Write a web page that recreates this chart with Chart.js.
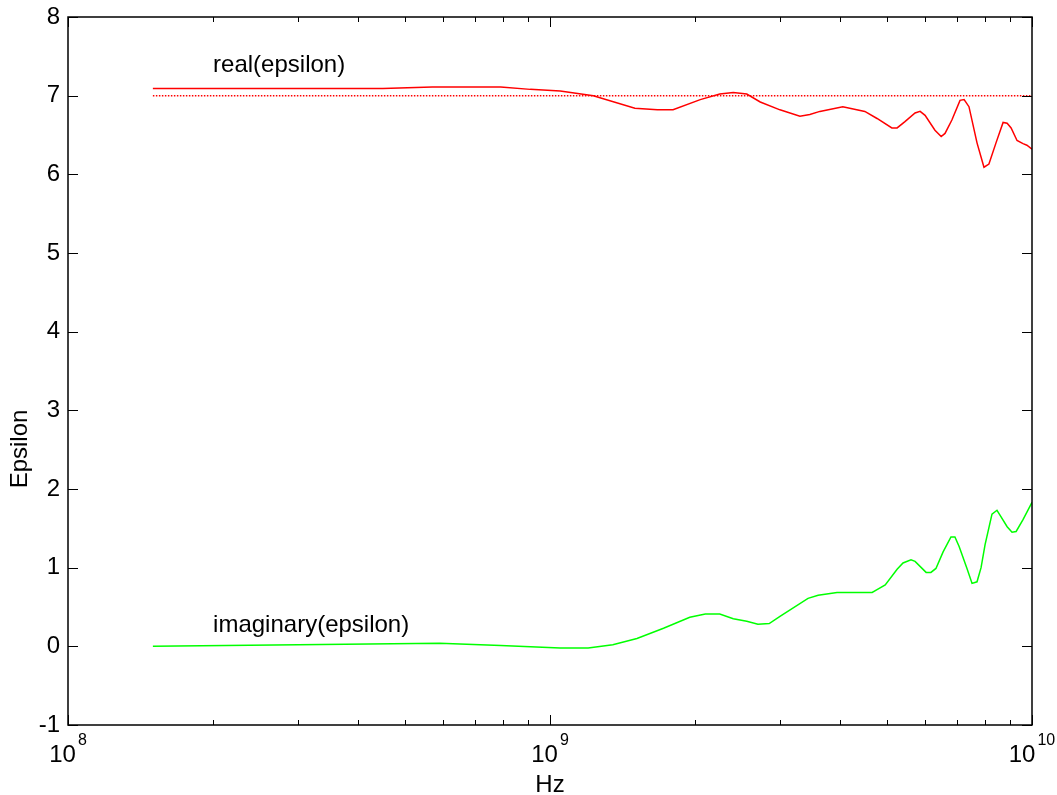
<!DOCTYPE html>
<html>
<head>
<meta charset="utf-8">
<script src="https://cdn.jsdelivr.net/npm/chart.js@4"></script>
<style>
  html, body { margin: 0; padding: 0; background: #fff; }
  canvas { display: block; }
</style>
</head>
<body>
<canvas id="epsChart" width="1057" height="795"></canvas>
<script>
const realFreq = [1.5e8, 3.0e8, 4.5e8, 5.7e8, 7.9e8, 9.1e8, 1.05e9, 1.23e9, 1.50e9, 1.67e9, 1.80e9, 2.05e9, 2.25e9, 2.40e9, 2.56e9, 2.73e9, 3.0e9, 3.30e9, 3.46e9, 3.63e9, 4.05e9, 4.50e9, 4.77e9, 5.12e9, 5.25e9, 5.45e9, 5.72e9, 5.86e9, 6.0e9, 6.29e9, 6.48e9, 6.60e9, 6.82e9, 7.09e9, 7.23e9, 7.40e9, 7.69e9, 7.95e9, 8.14e9, 8.42e9, 8.71e9, 8.88e9, 9.05e9, 9.31e9, 9.58e9, 9.76e9, 1.0e10];
const realEps = [7.09, 7.09, 7.09, 7.11, 7.11, 7.08, 7.06, 7.0, 6.84, 6.82, 6.82, 6.95, 7.02, 7.04, 7.02, 6.92, 6.82, 6.74, 6.76, 6.80, 6.86, 6.80, 6.71, 6.59, 6.59, 6.67, 6.78, 6.80, 6.75, 6.56, 6.48, 6.52, 6.69, 6.94, 6.95, 6.86, 6.40, 6.09, 6.13, 6.40, 6.66, 6.65, 6.59, 6.43, 6.39, 6.37, 6.32];

const imagFreq = [1.5e8, 3.0e8, 5.9e8, 7.9e8, 1.05e9, 1.2e9, 1.35e9, 1.515e9, 1.72e9, 1.95e9, 2.1e9, 2.25e9, 2.40e9, 2.56e9, 2.70e9, 2.85e9, 3.0e9, 3.43e9, 3.6e9, 3.94e9, 4.66e9, 4.77e9, 4.96e9, 5.25e9, 5.40e9, 5.61e9, 5.72e9, 6.03e9, 6.17e9, 6.32e9, 6.54e9, 6.79e9, 6.92e9, 7.06e9, 7.33e9, 7.51e9, 7.69e9, 7.84e9, 7.99e9, 8.26e9, 8.46e9, 8.62e9, 8.88e9, 9.09e9, 9.27e9, 9.58e9, 1.0e10];
const imagEps = [0.0, 0.02, 0.04, 0.01, -0.02, -0.02, 0.02, 0.10, 0.23, 0.37, 0.41, 0.41, 0.35, 0.32, 0.28, 0.29, 0.38, 0.61, 0.65, 0.685, 0.685, 0.72, 0.78, 0.98, 1.06, 1.10, 1.08, 0.94, 0.94, 0.99, 1.20, 1.39, 1.39, 1.27, 0.99, 0.80, 0.82, 1.00, 1.29, 1.68, 1.73, 1.65, 1.52, 1.45, 1.46, 1.61, 1.83];

const refFreq = [1.5e8, 1.0e10];
const refEps = [7, 7];

const yTicks = [-1, 0, 1, 2, 3, 4, 5, 6, 7, 8];
const xDecades = [8, 9, 10];

const annotations = [
    { text: 'real(epsilon)', x: 2.0e8, y: 7.30 },
    { text: 'imaginary(epsilon)', x: 2.0e8, y: 0.183 }
];

const FONT = 'Arial, "Liberation Sans", sans-serif';

const toPoints = (xs, ys) => xs.map((x, i) => ({ x, y: ys[i] }));

const matlabAxes = {
    id: 'matlabAxes',
    afterDraw(chart) {
        const { ctx, chartArea: a, scales: { x, y } } = chart;
        ctx.save();
        ctx.strokeStyle = '#000';
        ctx.lineWidth = 1.5;
        ctx.strokeRect(a.left, a.top, a.right - a.left, a.bottom - a.top);

        ctx.lineWidth = 1;
        ctx.beginPath();
        yTicks.forEach(v => {
            const py = Math.round(y.getPixelForValue(v)) + 0.5;
            ctx.moveTo(a.left, py); ctx.lineTo(a.left + 10, py);
            ctx.moveTo(a.right, py); ctx.lineTo(a.right - 10, py);
        });
        xDecades.forEach((d, i) => {
            const px = Math.round(x.getPixelForValue(Math.pow(10, d))) + 0.5;
            ctx.moveTo(px, a.bottom); ctx.lineTo(px, a.bottom - 10);
            ctx.moveTo(px, a.top); ctx.lineTo(px, a.top + 10);
            if (i < xDecades.length - 1) {
                for (let k = 2; k <= 9; k++) {
                    const mx = Math.round(x.getPixelForValue(k * Math.pow(10, d))) + 0.5;
                    ctx.moveTo(mx, a.bottom); ctx.lineTo(mx, a.bottom - 5);
                    ctx.moveTo(mx, a.top); ctx.lineTo(mx, a.top + 5);
                }
            }
        });
        ctx.stroke();

        // x tick labels with superscript exponent
        ctx.fillStyle = '#000';
        ctx.textBaseline = 'alphabetic';
        ctx.textAlign = 'left';
        xDecades.forEach(d => {
            const px = x.getPixelForValue(Math.pow(10, d));
            ctx.font = '24px ' + FONT;
            const wBase = ctx.measureText('10').width;
            ctx.font = '16px ' + FONT;
            const wExp = ctx.measureText(String(d)).width;
            const start = px - (wBase + 2 + wExp) / 2;
            ctx.font = '24px ' + FONT;
            ctx.fillText('10', start, 762);
            ctx.font = '16px ' + FONT;
            ctx.fillText(String(d), start + wBase + 2, 745);
        });

        ctx.font = '24px ' + FONT;
        ctx.textAlign = 'center';
        ctx.fillText('Hz', (a.left + a.right) / 2, 792);

        ctx.save();
        ctx.translate(20, 449);
        ctx.rotate(-Math.PI / 2);
        ctx.textBaseline = 'middle';
        ctx.fillText('Epsilon', 0, 0);
        ctx.restore();

        ctx.textAlign = 'left';
        ctx.textBaseline = 'alphabetic';
        annotations.forEach(t => {
            ctx.fillText(t.text, x.getPixelForValue(t.x), y.getPixelForValue(t.y));
        });
        ctx.restore();
    }
};

const canvas = document.getElementById('epsChart');

new Chart(canvas, {
    type: 'line',
    data: {
        datasets: [
            {
                label: 'real(epsilon)',
                data: toPoints(realFreq, realEps),
                borderColor: '#ff0000',
                borderWidth: 1.5,
                pointRadius: 0,
                tension: 0,
                fill: false
            },
            {
                label: 'reference',
                data: toPoints(refFreq, refEps),
                borderColor: '#ff0000',
                borderWidth: 1.5,
                borderDash: [1.5, 1.5],
                pointRadius: 0,
                fill: false
            },
            {
                label: 'imaginary(epsilon)',
                data: toPoints(imagFreq, imagEps),
                borderColor: '#00ff00',
                borderWidth: 1.5,
                pointRadius: 0,
                tension: 0,
                fill: false
            }
        ]
    },
    options: {
        responsive: false,
        animation: false,
        devicePixelRatio: 1,
        layout: {
            padding: { left: 0, top: 17, right: 25, bottom: 0 }
        },
        plugins: {
            legend: { display: false },
            tooltip: { enabled: false }
        },
        scales: {
            x: {
                type: 'logarithmic',
                min: 1e8,
                max: 1e10,
                grid: { display: false, drawTicks: false },
                border: { display: false },
                ticks: { display: false },
                afterFit: scale => {
                    scale.height = 70;
                    scale.paddingLeft = 0;
                    scale.paddingRight = 0;
                }
            },
            y: {
                min: -1,
                max: 8,
                grid: { display: false, drawTicks: false },
                border: { display: false },
                ticks: {
                    stepSize: 1,
                    padding: 8,
                    color: '#000',
                    font: { family: FONT, size: 24 }
                },
                afterFit: scale => {
                    scale.width = 68;
                    scale.paddingTop = 0;
                    scale.paddingBottom = 0;
                }
            }
        }
    },
    plugins: [matlabAxes]
});
</script>
</body>
</html>
